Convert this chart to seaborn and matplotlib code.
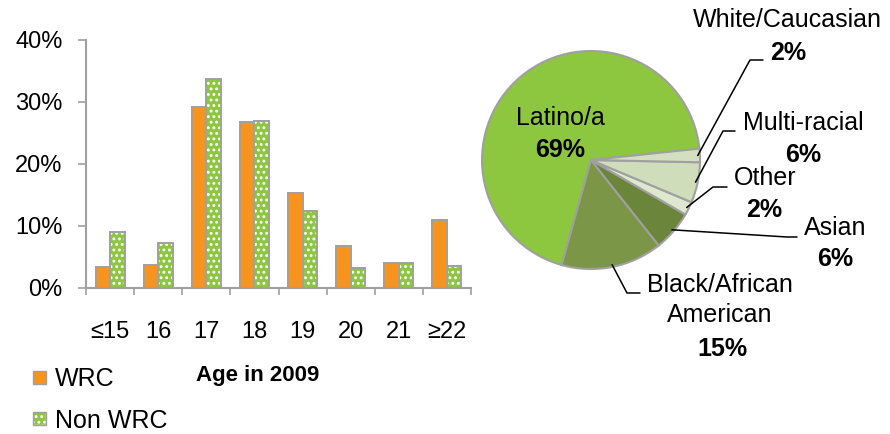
import matplotlib
matplotlib.use('Agg')
import matplotlib.pyplot as plt
import matplotlib.ticker as mtick
from matplotlib.patches import Patch, Rectangle
from matplotlib.legend_handler import HandlerTuple, HandlerPatch
import numpy as np
import pandas as pd
import seaborn as sns

# bar chart data (percent of students)
ages = ['≤15', '16', '17', '18', '19', '20', '21', '≥22']
wrc = [3.4, 3.7, 29.2, 26.8, 15.3, 6.8, 4.1, 10.9]
non_wrc = [9.1, 7.3, 33.7, 26.9, 12.4, 3.2, 4.1, 3.6]
groups = ['WRC', 'Non WRC']

# pie chart data
eth_names = ['Latino/a', 'Black/African\nAmerican', 'Asian', 'Other', 'Multi-racial', 'White/Caucasian']
eth_pct = [69, 15, 6, 2, 6, 2]

orange = '#F7941D'
green = '#8DC63F'
edge = '#A0A0A0'
eth_colors = ['#8DC63F', '#7B9646', '#6B863B', '#DDE8CF', '#CFDDBA', '#D3DFC0']

W, H = 890, 434


def px2fig(x, y):
    return x / W, 1 - y / H


sns.set_style('white')
plt.rcParams['font.family'] = ['Liberation Sans', 'DejaVu Sans']
plt.rcParams['text.color'] = 'black'
plt.rcParams['xtick.labelcolor'] = 'black'
plt.rcParams['ytick.labelcolor'] = 'black'
plt.rcParams['hatch.linewidth'] = 1.3

df = pd.DataFrame({
    'age': ages * 2,
    'pct': [v / 100 for v in wrc + non_wrc],
    'group': [groups[0]] * len(ages) + [groups[1]] * len(ages),
})

fig = plt.figure(figsize=(W / 100, H / 100), dpi=100)

# ---- left: grouped bars ----
ax = fig.add_axes([86 / W, 1 - 288 / H, (471 - 86) / W, (288 - 40) / H])
sns.barplot(data=df, x='age', y='pct', hue='group', palette=[orange, green],
            width=0.6, saturation=1, edgecolor=edge, linewidth=1.4,
            legend=False, ax=ax)

# dotted fill for Non WRC: white hatch, then grey outline on top
for bar in ax.containers[1]:
    bar.set_hatch('...')
    bar.set_edgecolor('white')
    bar.set_linewidth(0.3)
    ax.add_patch(Rectangle(bar.get_xy(), bar.get_width(), bar.get_height(),
                           fill=False, edgecolor=edge, linewidth=1.4, zorder=3))

ax.set_xlim(-0.5, len(ages) - 0.5)
ax.set_ylim(0, 0.4)
ax.yaxis.set_major_locator(mtick.MultipleLocator(0.1))
ax.yaxis.set_major_formatter(mtick.PercentFormatter(1.0, decimals=0))
ax.set_xticks(np.arange(-0.5, len(ages), 1), minor=True)
ax.set_xlabel('')
ax.set_ylabel('')
sns.despine(ax=ax)
for s in ['left', 'bottom']:
    ax.spines[s].set_color(edge)
    ax.spines[s].set_linewidth(1.5)
ax.tick_params(axis='x', which='major', bottom=False, pad=20, labelsize=17,
               labelcolor='black')
ax.tick_params(axis='x', which='minor', bottom=True, length=5, width=1.2,
               color=edge, direction='out')
ax.tick_params(axis='y', left=True, length=6, width=1.2, color=edge,
               direction='out', pad=11, labelsize=17, labelcolor='black')

fig.text(*px2fig(258, 376), 'Age in 2009', ha='center', va='center',
         fontsize=16, fontweight='bold', color='black')


def square_patch(legend, orig_handle, xdescent, ydescent, width, height, fontsize):
    side = 13 * 72 / fig.dpi
    y0 = -ydescent + (height - side) / 2
    return Rectangle((-xdescent, y0), side, side)


handles = [Patch(facecolor=orange, edgecolor=edge, linewidth=1),
           (Patch(facecolor=green, edgecolor='white', hatch='...', linewidth=0.3),
            Patch(fill=False, edgecolor=edge, linewidth=1))]
fig.legend(handles, groups, loc='upper left', bbox_to_anchor=px2fig(33, 367),
           frameon=False, fontsize=18, handlelength=0.52, handleheight=0.7,
           handletextpad=0.35, labelspacing=0.7, borderpad=0, borderaxespad=0,
           labelcolor='black',
           handler_map={Patch: HandlerPatch(patch_func=square_patch),
                        tuple: HandlerTuple(ndivide=1)})

# ---- right: pie ----
cx, cy, r = 591, 160, 109
pax = fig.add_axes([480 / W, 0, 410 / W, 1])
wedges, _ = pax.pie(eth_pct, colors=eth_colors, startangle=6, counterclock=True,
                    wedgeprops=dict(edgecolor=edge, linewidth=1.5))
pax.set_xlim((480 - cx) / r, (890 - cx) / r)
pax.set_ylim((cy - 434) / r, cy / r)
pax.set_aspect('equal')
pax.axis('off')


def px2pie(x, y):
    return (x - cx) / r, (cy - y) / r


# label layout in pixels: name centre, percent centre, leader elbow x/y, leader end x
label_pos = [
    ((560, 118), (560, 150), None),
    ((720, 300), (722, 349), (627, 293, 640)),
    ((835, 228), (835, 259), (787, 237, 797)),
    ((765, 178), (764, 210), (713, 187, 727)),
    ((803, 123), (803, 155), (723, 131, 735)),
    ((787, 20), (788, 53), (750, 60, 763)),
]

for w, name, pct, (name_xy, pct_xy, lead) in zip(wedges, eth_names, eth_pct, label_pos):
    pax.text(*px2pie(*name_xy), name, ha='center', va='center', fontsize=18,
             linespacing=1.35, color='black')
    pax.text(*px2pie(*pct_xy), f'{pct}%', ha='center', va='center', fontsize=18,
             fontweight='bold', color='black')
    if lead is not None:
        mid = np.deg2rad((w.theta1 + w.theta2) / 2)
        sx, sy = 0.98 * np.cos(mid), 0.98 * np.sin(mid)
        ex, ey = px2pie(lead[0], lead[1])
        fx, _ = px2pie(lead[2], lead[1])
        pax.plot([sx, ex, fx], [sy, ey, ey], color='black', linewidth=1.1)

fig.savefig('out.png', dpi=100)
